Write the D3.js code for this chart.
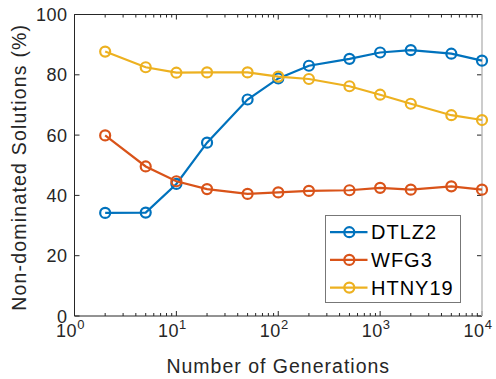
<!DOCTYPE html>
<html>
<head>
<meta charset="utf-8">
<script src="https://cdn.jsdelivr.net/npm/d3@7"></script>
<style>
  body { margin: 0; background: #fff; }
  text { font-family: "Liberation Sans", Arial, sans-serif; }
</style>
</head>
<body>
<div id="chart"></div>
<script>
const generations = [2, 5, 10, 20, 50, 100, 200, 500, 1000, 2000, 5000, 10000];
const dtlz2 = [34.2, 34.3, 43.8, 57.5, 71.8, 78.8, 83.0, 85.3, 87.4, 88.2, 87.0, 84.7];
const wfg3 = [59.9, 49.6, 44.7, 42.1, 40.5, 41.0, 41.5, 41.7, 42.5, 41.9, 43.0, 41.9];
const htny19 = [87.7, 82.5, 80.7, 80.8, 80.8, 79.4, 78.6, 76.2, 73.4, 70.4, 66.6, 65.0];
const seriesNames = ["DTLZ2", "WFG3", "HTNY19"];
const colors = ["#0072BD", "#D95319", "#EDB120"];
const yTicks = [0, 20, 40, 60, 80, 100];
const xDecades = [0, 1, 2, 3, 4];

const W = 496, H = 379;
const margin = { left: 74.5, right: 14, top: 14.5, bottom: 63 };

const svg = d3.select("#chart").append("svg")
    .attr("width", W)
    .attr("height", H);

const x = d3.scaleLog().domain([1, 10000]).range([margin.left, W - margin.right]);
const y = d3.scaleLinear().domain([0, 100]).range([H - margin.bottom, margin.top]);

const x0 = x.range()[0], x1 = x.range()[1], y0 = y.range()[0], y1 = y.range()[1];

// minor ticks
const minor = [];
for (let d = 0; d < 4; d++) for (let k = 2; k <= 9; k++) minor.push(k * Math.pow(10, d));

const axes = svg.append("g").attr("stroke", "#262626").attr("stroke-width", 1);
minor.forEach(v => {
    axes.append("line").attr("x1", x(v)).attr("x2", x(v)).attr("y1", y0).attr("y2", y0 - 3);
    axes.append("line").attr("x1", x(v)).attr("x2", x(v)).attr("y1", y1).attr("y2", y1 + 3);
});
xDecades.forEach(d => {
    const v = Math.pow(10, d);
    axes.append("line").attr("x1", x(v)).attr("x2", x(v)).attr("y1", y0).attr("y2", y0 - 5);
    axes.append("line").attr("x1", x(v)).attr("x2", x(v)).attr("y1", y1).attr("y2", y1 + 5);
});
yTicks.forEach(v => {
    axes.append("line").attr("x1", x0).attr("x2", x0 + 5).attr("y1", y(v)).attr("y2", y(v));
    axes.append("line").attr("x1", x1).attr("x2", x1 - 5).attr("y1", y(v)).attr("y2", y(v));
});
axes.append("line").attr("x1", x0).attr("x2", x1).attr("y1", y0).attr("y2", y0);
axes.append("line").attr("x1", x0).attr("x2", x1).attr("y1", y1).attr("y2", y1);
axes.append("line").attr("x1", x0).attr("x2", x0).attr("y1", y0).attr("y2", y1);
axes.append("line").attr("x1", x1).attr("x2", x1).attr("y1", y0).attr("y2", y1)
    .attr("stroke", "#bbb").attr("stroke-width", 1.5);

// tick labels
svg.append("g").selectAll("text").data(yTicks).join("text")
    .attr("x", x0 - 7).attr("y", d => y(d) + 6.5)
    .attr("text-anchor", "end")
    .attr("font-size", 18).attr("letter-spacing", 0.5).attr("fill", "#262626")
    .text(d => d);

const xl = svg.append("g").selectAll("text").data(xDecades).join("text")
    .attr("x", d => x(Math.pow(10, d)) - 4).attr("y", y0 + 21)
    .attr("text-anchor", "middle")
    .attr("font-size", 18).attr("letter-spacing", 0.5).attr("fill", "#262626");
xl.append("tspan").text("10");
xl.append("tspan").attr("dy", -8).attr("font-size", 13).text(d => d);

svg.append("text")
    .attr("x", (x0 + x1) / 2).attr("y", H - 6.5)
    .attr("text-anchor", "middle").attr("font-size", 19.5).attr("letter-spacing", 1)
    .attr("fill", "#262626")
    .text("Number of Generations");

svg.append("text")
    .attr("transform", `translate(25.5,${(y0 + y1) / 2 + 2}) rotate(-90)`)
    .attr("text-anchor", "middle").attr("font-size", 19.5).attr("letter-spacing", 1.2)
    .attr("fill", "#262626")
    .text("Non-dominated Solutions (%)");

// series
const allSeries = [dtlz2, wfg3, htny19];
const line = d3.line().x((d, i) => x(generations[i])).y(d => y(d));
allSeries.forEach((vals, si) => {
    const g = svg.append("g");
    g.append("path").datum(vals)
        .attr("d", line)
        .attr("fill", "none")
        .attr("stroke", colors[si])
        .attr("stroke-width", 2.2);
    g.selectAll("circle").data(vals).join("circle")
        .attr("cx", (d, i) => x(generations[i]))
        .attr("cy", d => y(d))
        .attr("r", 5)
        .attr("fill", "none")
        .attr("stroke", colors[si])
        .attr("stroke-width", 2.2);
});

// legend
const lg = svg.append("g").attr("transform", "translate(325.5,215.5)");
lg.append("rect").attr("width", 135).attr("height", 87)
    .attr("fill", "#fff").attr("stroke", "#777").attr("stroke-width", 1);
seriesNames.forEach((name, i) => {
    const cy = 16.7 + i * 27.7;
    lg.append("line").attr("x1", 4.5).attr("x2", 42).attr("y1", cy).attr("y2", cy)
        .attr("stroke", colors[i]).attr("stroke-width", 2.2);
    lg.append("circle").attr("cx", 23.8).attr("cy", cy).attr("r", 5)
        .attr("fill", "none").attr("stroke", colors[i]).attr("stroke-width", 2.2);
    lg.append("text").attr("x", 45.5).attr("y", cy + 7)
        .attr("font-size", 20).attr("letter-spacing", 1).attr("fill", "#000").text(name);
});
</script>
</body>
</html>
